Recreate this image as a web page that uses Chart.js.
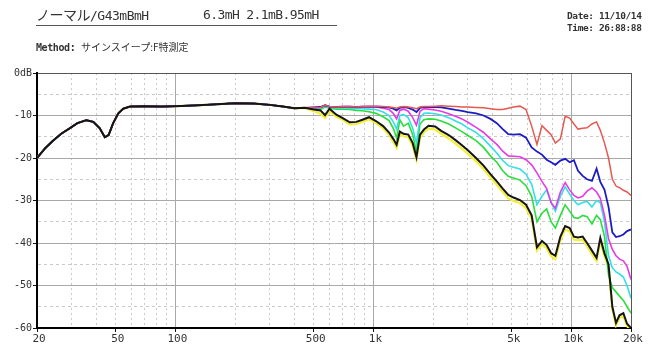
<!DOCTYPE html>
<html>
<head>
<meta charset="utf-8">
<script src="https://cdn.jsdelivr.net/npm/chart.js@4.4.1/dist/chart.umd.min.js"></script>
<style>
  html, body { margin: 0; padding: 0; background: #fff; }
  #wrap { position: relative; width: 658px; height: 351px; overflow: hidden; background: #fff; }
  #c { position: absolute; left: 0; top: 0; }
  .t { position: absolute; white-space: pre; color: #333; }
  .mono { font-family: "DejaVu Sans Mono", "Liberation Mono", monospace; }
  .jp { font-family: "Noto Sans CJK JP", sans-serif; }
</style>
</head>
<body>
<div id="wrap">
  <canvas id="c" width="658" height="351"></canvas>
  <div class="t jp" style="left:36px; top:5px; font-size:14px; line-height:18px; letter-spacing:-0.5px;">ノーマル<span class="mono" style="font-size:13px;">/G43mBmH</span></div>
  <div class="t mono" style="left:203px; top:6px; font-size:13px; line-height:18px; letter-spacing:-0.6px;">6.3mH 2.1mB.95mH</div>
  <div style="position:absolute; left:36px; top:25px; width:301px; height:1px; background:#555;"></div>
  <div class="t" style="left:36px; top:40px; font-size:10px; line-height:14px;"><span class="mono" style="font-weight:bold; letter-spacing:-0.4px;">Method: </span><span class="jp">サインスイープ:F特測定</span></div>
  <div class="t mono" style="left:567px; top:10px; font-size:9.5px; line-height:12px; font-weight:bold; letter-spacing:-0.4px;">Date: 11/10/14<br>Time: 26:88:88</div>
</div>
<script>
// ---- data ----
const fLow = [20, 22, 24, 26.5, 29.5, 32, 35.5, 38.5, 41.5, 44, 46, 48.5, 51.5, 54.5, 59, 70, 85, 100, 130, 170, 200, 250, 300, 350, 400, 450];
const lowLevels = [-20, -17.7, -16.0, -14.3, -12.9, -11.8, -11.1, -11.5, -13.0, -15.1, -14.6, -11.8, -9.5, -8.4, -7.9, -7.8, -7.9, -7.8, -7.6, -7.3, -7.1, -7.2, -7.5, -7.9, -8.3, -8.2];

const fHigh = [500, 540, 570, 600, 650, 700, 760, 820, 880, 950,
  1030, 1120, 1200, 1260, 1310, 1360, 1420, 1500, 1580, 1650,
  1720, 1800, 1900, 2050, 2200, 2400, 2600, 2800, 3000, 3300,
  3600, 3900, 4200, 4500, 4800, 5100, 5500, 5900, 6300, 6700,
  7100, 7500, 7900, 8300, 8800, 9300, 9800, 10300, 10800, 11400,
  12000, 12700, 13400, 14000, 14700, 15400, 16100, 16800, 17500, 18300,
  19100, 20000];

const redHigh = [-8.2, -8.1, -7.6, -7.9, -8.0, -7.9, -7.9, -8.0, -7.9, -7.8,
  -7.8, -7.9, -8.0, -8.1, -8.3, -8.0, -7.9, -8.0, -8.2, -8.4,
  -8.0, -7.9, -7.9, -7.8, -7.7, -7.8, -7.9, -8.0, -8.0, -8.1,
  -8.2, -8.4, -8.6, -8.6, -8.3, -8.0, -7.8, -8.6, -12.5, -16.8,
  -12.4, -13.5, -14.5, -16.5, -15.5, -10.2, -10.6, -12.0, -13.2, -13.0,
  -12.9, -12.0, -11.5, -13.5, -16.5, -20.0, -25.0, -26.6, -27.0, -27.6,
  -28.0, -28.8];

const blueHigh = [-8.1, -8.0, -7.6, -7.9, -8.0, -7.9, -7.9, -8.0, -7.9, -7.9,
  -7.9, -8.0, -8.1, -8.4, -8.8, -8.2, -8.0, -8.2, -8.6, -9.2,
  -8.2, -8.0, -8.0, -8.0, -8.1, -8.4, -8.7, -8.9, -9.2, -9.5,
  -10.0, -10.8, -11.8, -13.2, -14.4, -14.5, -14.4, -15.2, -17.5, -18.5,
  -19.2, -20.4, -21.0, -21.6, -20.6, -20.2, -21.0, -20.5, -23.0, -24.2,
  -25.0, -25.4, -22.5, -25.6, -27.5, -31.5, -37.5, -38.6, -38.4, -38.0,
  -37.2, -36.8];

const magentaHigh = [-8.1, -8.1, -7.6, -7.9, -8.0, -8.0, -8.0, -8.1, -8.0, -8.0,
  -8.0, -8.3, -8.6, -9.5, -10.8, -8.8, -8.5, -9.0, -10.5, -12.3,
  -9.0, -8.4, -8.5, -8.7, -9.0, -9.6, -10.2, -10.8, -11.6, -12.8,
  -14.0, -15.5, -16.8, -18.4, -19.5, -19.6, -19.7, -20.4, -21.6, -23.5,
  -25.5, -27.2, -30.5, -31.8, -28.0, -25.8, -27.5, -28.8, -29.4, -29.0,
  -27.8, -27.0, -28.0, -29.5, -33.5, -39.0, -41.5, -43.0, -43.8, -44.2,
  -45.5, -48.6];

const cyanHigh = [-8.2, -8.3, -7.8, -8.1, -8.2, -8.2, -8.3, -8.4, -8.4, -8.5,
  -8.6, -9.2, -10.0, -11.5, -13.2, -10.0, -9.8, -10.5, -13.0, -16.5,
  -10.5, -9.5, -9.4, -9.6, -9.9, -10.5, -11.3, -12.0, -12.9, -14.0,
  -15.5, -17.2, -18.8, -20.6, -21.8, -22.2, -22.6, -23.8, -26.2, -31.0,
  -29.0, -27.5, -30.5, -32.5, -29.0, -26.8, -28.5, -30.0, -31.0, -30.5,
  -30.2, -31.5, -30.0, -30.5, -35.0, -43.0, -45.8, -46.8, -47.3, -48.0,
  -50.0, -53.0];

const greenHigh = [-8.3, -8.6, -8.0, -8.3, -8.5, -8.5, -8.6, -8.8, -8.9, -9.1,
  -9.5, -10.3, -11.2, -13.0, -15.3, -11.0, -12.5, -11.8, -14.5, -18.5,
  -12.0, -11.0, -10.8, -10.9, -11.3, -12.0, -12.9, -13.8, -14.7, -15.9,
  -17.5, -19.5, -21.0, -23.0, -24.3, -24.7, -25.2, -26.5, -29.0, -35.0,
  -33.0, -32.0, -35.0, -36.5, -33.5, -31.0, -32.5, -34.0, -34.2, -33.5,
  -33.8, -35.5, -33.5, -34.5, -38.5, -47.5, -50.5, -51.5, -52.5, -53.5,
  -55.0, -56.5];

const blackHigh = [-8.6, -8.8, -9.9, -8.4, -9.8, -10.6, -11.6, -11.5, -11.0, -10.4,
  -11.3, -12.5, -14.0, -15.5, -16.9, -13.8, -14.3, -14.5, -16.5, -19.8,
  -14.5, -13.3, -12.4, -12.6, -13.6, -14.6, -15.8, -17.0, -18.2, -20.0,
  -21.8, -23.8, -25.5, -27.2, -28.7, -29.3, -29.9, -31.0, -33.5, -41.0,
  -39.5, -40.5, -42.4, -43.0, -38.5, -36.0, -36.5, -38.5, -38.7, -38.5,
  -40.0, -41.8, -43.5, -38.8, -42.5, -45.0, -55.0, -58.8, -57.0, -56.5,
  -59.0, -60.0];

const yellowHigh = [-9.0, -9.6, -10.6, -8.9, -10.3, -11.0, -12.1, -12.0, -11.5, -10.9,
  -11.8, -13.0, -14.6, -16.2, -17.6, -14.4, -14.9, -15.1, -17.2, -20.4,
  -15.2, -14.0, -13.1, -13.3, -14.3, -15.4, -16.6, -17.8, -19.0, -20.8,
  -22.6, -24.6, -26.3, -28.0, -29.5, -30.1, -30.6, -31.8, -34.3, -41.8,
  -40.3, -41.2, -43.1, -43.8, -39.3, -36.8, -37.3, -39.2, -39.4, -39.2,
  -40.8, -42.6, -44.2, -39.6, -43.2, -45.8, -55.6, -59.4, -57.6, -57.2,
  -59.6, -60.5];

const xTicks = [20, 30, 40, 50, 60, 70, 80, 90, 100, 200, 300, 400, 500, 600, 700, 800, 900,
  1000, 2000, 3000, 4000, 5000, 6000, 7000, 8000, 9000, 10000, 20000];
const xLabels = {20: '20', 50: '50', 100: '100', 500: '500', 1000: '1k', 5000: '5k', 10000: '10k', 20000: '20k'};
const yTicks = [0, -5, -10, -15, -20, -25, -30, -35, -40, -45, -50, -55, -60];
const yLabels = {0: '0dB', '-10': '-10', '-20': '-20', '-30': '-30', '-40': '-40', '-50': '-50', '-60': '-60'};

// ---- build ----
const freqs = fLow.concat(fHigh);
function pts(high) {
  const ys = lowLevels.concat(high);
  return freqs.map((f, i) => ({x: f, y: ys[i]}));
}
const series = [
  {label: 'black', data: blackHigh, color: '#151515', w: 2},
  {label: 'red', data: redHigh, color: '#e35a52', w: 1.5},
  {label: 'blue', data: blueHigh, color: '#1c1cc4', w: 1.8},
  {label: 'magenta', data: magentaHigh, color: '#e63ae6', w: 1.6},
  {label: 'cyan', data: cyanHigh, color: '#33e0e6', w: 1.6},
  {label: 'green', data: greenHigh, color: '#2ade3c', w: 1.6},
  {label: 'yellow', data: yellowHigh, color: '#f2f03a', w: 2.2}
];

const decade = [100, 1000, 10000];
new Chart(document.getElementById('c'), {
  type: 'line',
  data: {
    datasets: series.map(s => ({
      label: s.label,
      data: pts(s.data),
      borderColor: s.color,
      borderWidth: s.w,
      pointRadius: 0,
      fill: false,
      tension: 0
    }))
  },
  options: {
    responsive: false,
    animation: false,
    devicePixelRatio: 1,
    layout: {padding: {top: 73, right: 27, left: 0, bottom: 0}},
    plugins: {legend: {display: false}, tooltip: {enabled: false}},
    scales: {
      x: {
        type: 'logarithmic',
        min: 20, max: 20000,
        afterBuildTicks: sc => { sc.ticks = xTicks.map(v => ({value: v})); },
        afterFit: sc => { sc.height = 23; },
        ticks: {
          autoSkip: false, maxRotation: 0, minRotation: 0,
          padding: 1, labelOffset: 2,
          color: '#333',
          font: {family: 'DejaVu Sans Mono', size: 11},
          callback: v => (xLabels[v] !== undefined ? xLabels[v] : '')
        },
        grid: {
          color: c => {
            const v = c.tick ? c.tick.value : undefined;
            if (v === undefined) return '#000';
            if (v === 20) return 'rgba(0,0,0,0)';
            if (v === 20000) return '#555';
            if (decade.includes(v)) return '#a8a8a8';
            return '#cacaca';
          },
          lineWidth: 1,
          tickLength: 4,
          tickColor: c => (c.tick && xLabels[c.tick.value] !== undefined ? '#111' : 'rgba(0,0,0,0)')
        },
        border: {
          display: true, color: '#000', width: 2,
          dash: c => {
            const v = c.tick ? c.tick.value : undefined;
            if (v === undefined || v === 20 || v === 20000 || decade.includes(v)) return [];
            return [2, 3];
          }
        }
      },
      y: {
        type: 'linear',
        min: -60, max: 0,
        afterBuildTicks: sc => { sc.ticks = yTicks.map(v => ({value: v})); },
        afterFit: sc => { sc.width = 37; },
        ticks: {
          autoSkip: false, padding: 1,
          color: '#333',
          font: {family: 'DejaVu Sans Mono', size: 10},
          callback: v => (yLabels[v] !== undefined ? yLabels[v] : '')
        },
        grid: {
          color: c => {
            const v = c.tick ? c.tick.value : undefined;
            if (v === undefined) return '#000';
            if (v === -60) return 'rgba(0,0,0,0)';
            if (v === 0) return '#555';
            if (v % 10 === 0) return '#a8a8a8';
            return '#cacaca';
          },
          lineWidth: 1,
          tickLength: 4,
          tickColor: c => (c.tick && c.tick.value % 10 === 0 ? '#111' : 'rgba(0,0,0,0)')
        },
        border: {
          display: true, color: '#000', width: 2,
          dash: c => {
            const v = c.tick ? c.tick.value : undefined;
            if (v === undefined || v % 10 === 0) return [];
            return [3, 3];
          }
        }
      }
    }
  }
});
</script>
</body>
</html>
